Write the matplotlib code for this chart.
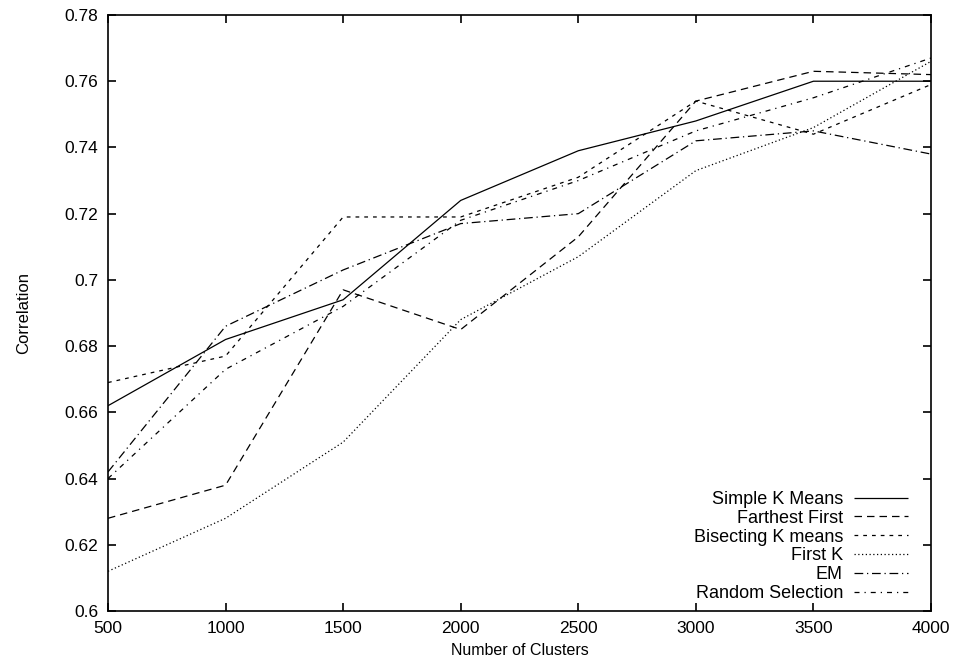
import matplotlib
matplotlib.use("Agg")
import matplotlib.pyplot as plt

plt.rcParams['font.family'] = ['Liberation Sans', 'DejaVu Sans']

# number of clusters
clusters = [500, 1000, 1500, 2000, 2500, 3000, 3500, 4000]

simple_kmeans = [0.662, 0.682, 0.694, 0.724, 0.739, 0.748, 0.760, 0.760]
farthest_first = [0.628, 0.638, 0.697, 0.685, 0.713, 0.754, 0.763, 0.762]
bisecting_kmeans = [0.669, 0.677, 0.719, 0.719, 0.731, 0.754, 0.744, 0.759]
first_k = [0.612, 0.628, 0.651, 0.688, 0.707, 0.733, 0.746, 0.766]
em = [0.642, 0.686, 0.703, 0.717, 0.720, 0.742, 0.745, 0.738]
random_sel = [0.640, 0.673, 0.692, 0.718, 0.730, 0.745, 0.755, 0.767]

series = [
    ("Simple K Means", simple_kmeans, (0, ())),
    ("Farthest First", farthest_first, (0, (6, 4))),
    ("Bisecting K means", bisecting_kmeans, (0, (3, 4))),
    ("First K", first_k, (0, (1, 2))),
    ("EM", em, (0, (7, 3, 1, 3))),
    ("Random Selection", random_sel, (0, (4, 4, 1, 4))),
]

fig = plt.figure(figsize=(9.56, 6.66), dpi=100)
ax = fig.add_axes([108 / 956, 1 - 611 / 666, (931 - 108) / 956, (611 - 15) / 666])

for name, vals, ls in series:
    ax.plot(clusters, vals, color="black", linewidth=0.9, linestyle=ls, label=name)

ax.set_xlim(500, 4000)
ax.set_ylim(0.6, 0.78)
ax.set_xticks(clusters)
ax.set_yticks([0.6, 0.62, 0.64, 0.66, 0.68, 0.7, 0.72, 0.74, 0.76, 0.78])
ax.set_yticklabels(["0.6", "0.62", "0.64", "0.66", "0.68", "0.7",
                    "0.72", "0.74", "0.76", "0.78"])
ax.tick_params(direction="in", length=6, width=1.2, labelsize=12.5,
               top=True, right=True, pad=7)
for sp in ax.spines.values():
    sp.set_linewidth(1.2)

ax.set_xlabel("Number of Clusters", fontsize=11.5, labelpad=5)
ax.set_ylabel("Correlation", fontsize=12, labelpad=24)

ax.legend(loc="lower right", frameon=False, markerfirst=False,
          fontsize=13, handlelength=3.0, labelspacing=0.1,
          borderaxespad=0.6, handletextpad=0.6,
          bbox_to_anchor=(1.0 - 5 / 823, 0.0 - 9 / 596))

fig.savefig("out.png", dpi=100)
